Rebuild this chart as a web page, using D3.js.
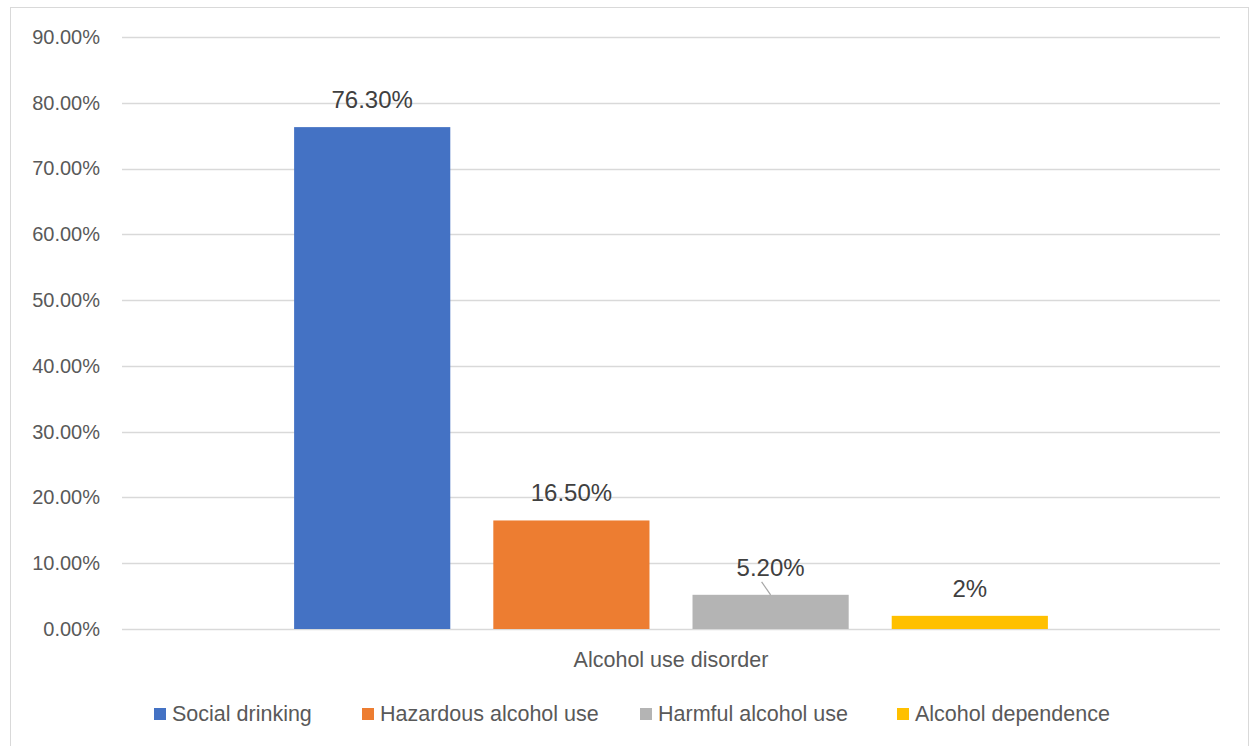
<!DOCTYPE html>
<html>
<head>
<meta charset="utf-8">
<script src="https://cdn.jsdelivr.net/npm/d3@7"></script>
<style>
  body { margin: 0; background: #fff; }
  text { font-family: "Liberation Sans", Arial, sans-serif; }
</style>
</head>
<body>
<svg id="chart" width="1251" height="746"></svg>
<script>
// chart data
var category = "Alcohol use disorder";
var seriesNames = ["Social drinking", "Hazardous alcohol use", "Harmful alcohol use", "Alcohol dependence"];
var seriesValues = [76.3, 16.5, 5.2, 2];
var valueLabels = ["76.30%", "16.50%", "5.20%", "2%"];
var colors = ["#4472c4", "#ed7d31", "#b4b4b4", "#ffc000"];
var yTicks = [0, 10, 20, 30, 40, 50, 60, 70, 80, 90];

var svg = d3.select("#chart");
var margin = {top: 37, right: 31, bottom: 117, left: 122},
  width = 1251 - margin.left - margin.right,
  height = 746 - margin.top - margin.bottom;

// outer frame
svg.append("rect")
  .attr("x", 10.5).attr("y", 7.5)
  .attr("width", 1238).attr("height", 745)
  .attr("fill", "#fff")
  .attr("stroke", "#d9d9d9");

var g = svg.append("g").attr("transform", "translate(" + margin.left + "," + margin.top + ")");

var y = d3.scaleLinear().domain([0, 90]).range([height, 0]);

var x0 = d3.scaleBand()
  .domain([category])
  .range([0, width])
  .paddingInner(0)
  .paddingOuter(0.189);

var x1 = d3.scaleBand()
  .domain(seriesNames)
  .range([0, x0.bandwidth()])
  .paddingInner(0.216)
  .paddingOuter(0.108);

// gridlines
g.selectAll(".grid")
  .data(yTicks)
  .enter().append("line")
  .attr("x1", 0).attr("x2", width)
  .attr("y1", function(d) { return Math.round(y(d)) + 0.5; })
  .attr("y2", function(d) { return Math.round(y(d)) + 0.5; })
  .attr("stroke", "#d9d9d9")
  .attr("stroke-width", 1.5);

// y axis
var yAxis = g.append("g")
  .call(d3.axisLeft(y).tickValues(yTicks).tickSize(0).tickPadding(22)
    .tickFormat(function(d) { return d.toFixed(2) + "%"; }));
yAxis.select(".domain").remove();
yAxis.selectAll("text")
  .attr("fill", "#595959")
  .style("font-size", "20px");

// bars
var group = g.append("g").attr("transform", "translate(" + x0(category) + ",0)");
group.selectAll("rect")
  .data(seriesValues)
  .enter().append("rect")
  .attr("x", function(d, i) { return x1(seriesNames[i]); })
  .attr("y", function(d) { return y(d); })
  .attr("width", x1.bandwidth())
  .attr("height", function(d) { return height - y(d); })
  .attr("fill", function(d, i) { return colors[i]; });

// data labels
group.selectAll(".lbl")
  .data(seriesValues)
  .enter().append("text")
  .attr("x", function(d, i) { return x1(seriesNames[i]) + x1.bandwidth() / 2; })
  .attr("y", function(d) { return y(d) - 19; })
  .attr("text-anchor", "middle")
  .attr("fill", "#404040")
  .style("font-size", "24px")
  .text(function(d, i) { return valueLabels[i]; });

// leader line for the harmful label
var hx = x1(seriesNames[2]) + x1.bandwidth() / 2;
group.append("line")
  .attr("x1", hx - 9).attr("y1", y(seriesValues[2]) - 13)
  .attr("x2", hx).attr("y2", y(seriesValues[2]))
  .attr("stroke", "#a6a6a6")
  .attr("stroke-width", 1.2);

// category label
g.append("text")
  .attr("x", x0(category) + x0.bandwidth() / 2)
  .attr("y", height + 38)
  .attr("text-anchor", "middle")
  .attr("fill", "#595959")
  .style("font-size", "21.5px")
  .text(category);

// legend
var legendX = [154, 362, 640, 897];
var legend = svg.append("g").attr("transform", "translate(0,714)");
seriesNames.forEach(function(name, i) {
  legend.append("rect")
    .attr("x", legendX[i]).attr("y", -6)
    .attr("width", 12).attr("height", 12)
    .attr("fill", colors[i]);
  legend.append("text")
    .attr("x", legendX[i] + 18).attr("y", 7)
    .attr("fill", "#595959")
    .style("font-size", "21.5px")
    .text(name);
});
</script>
</body>
</html>
